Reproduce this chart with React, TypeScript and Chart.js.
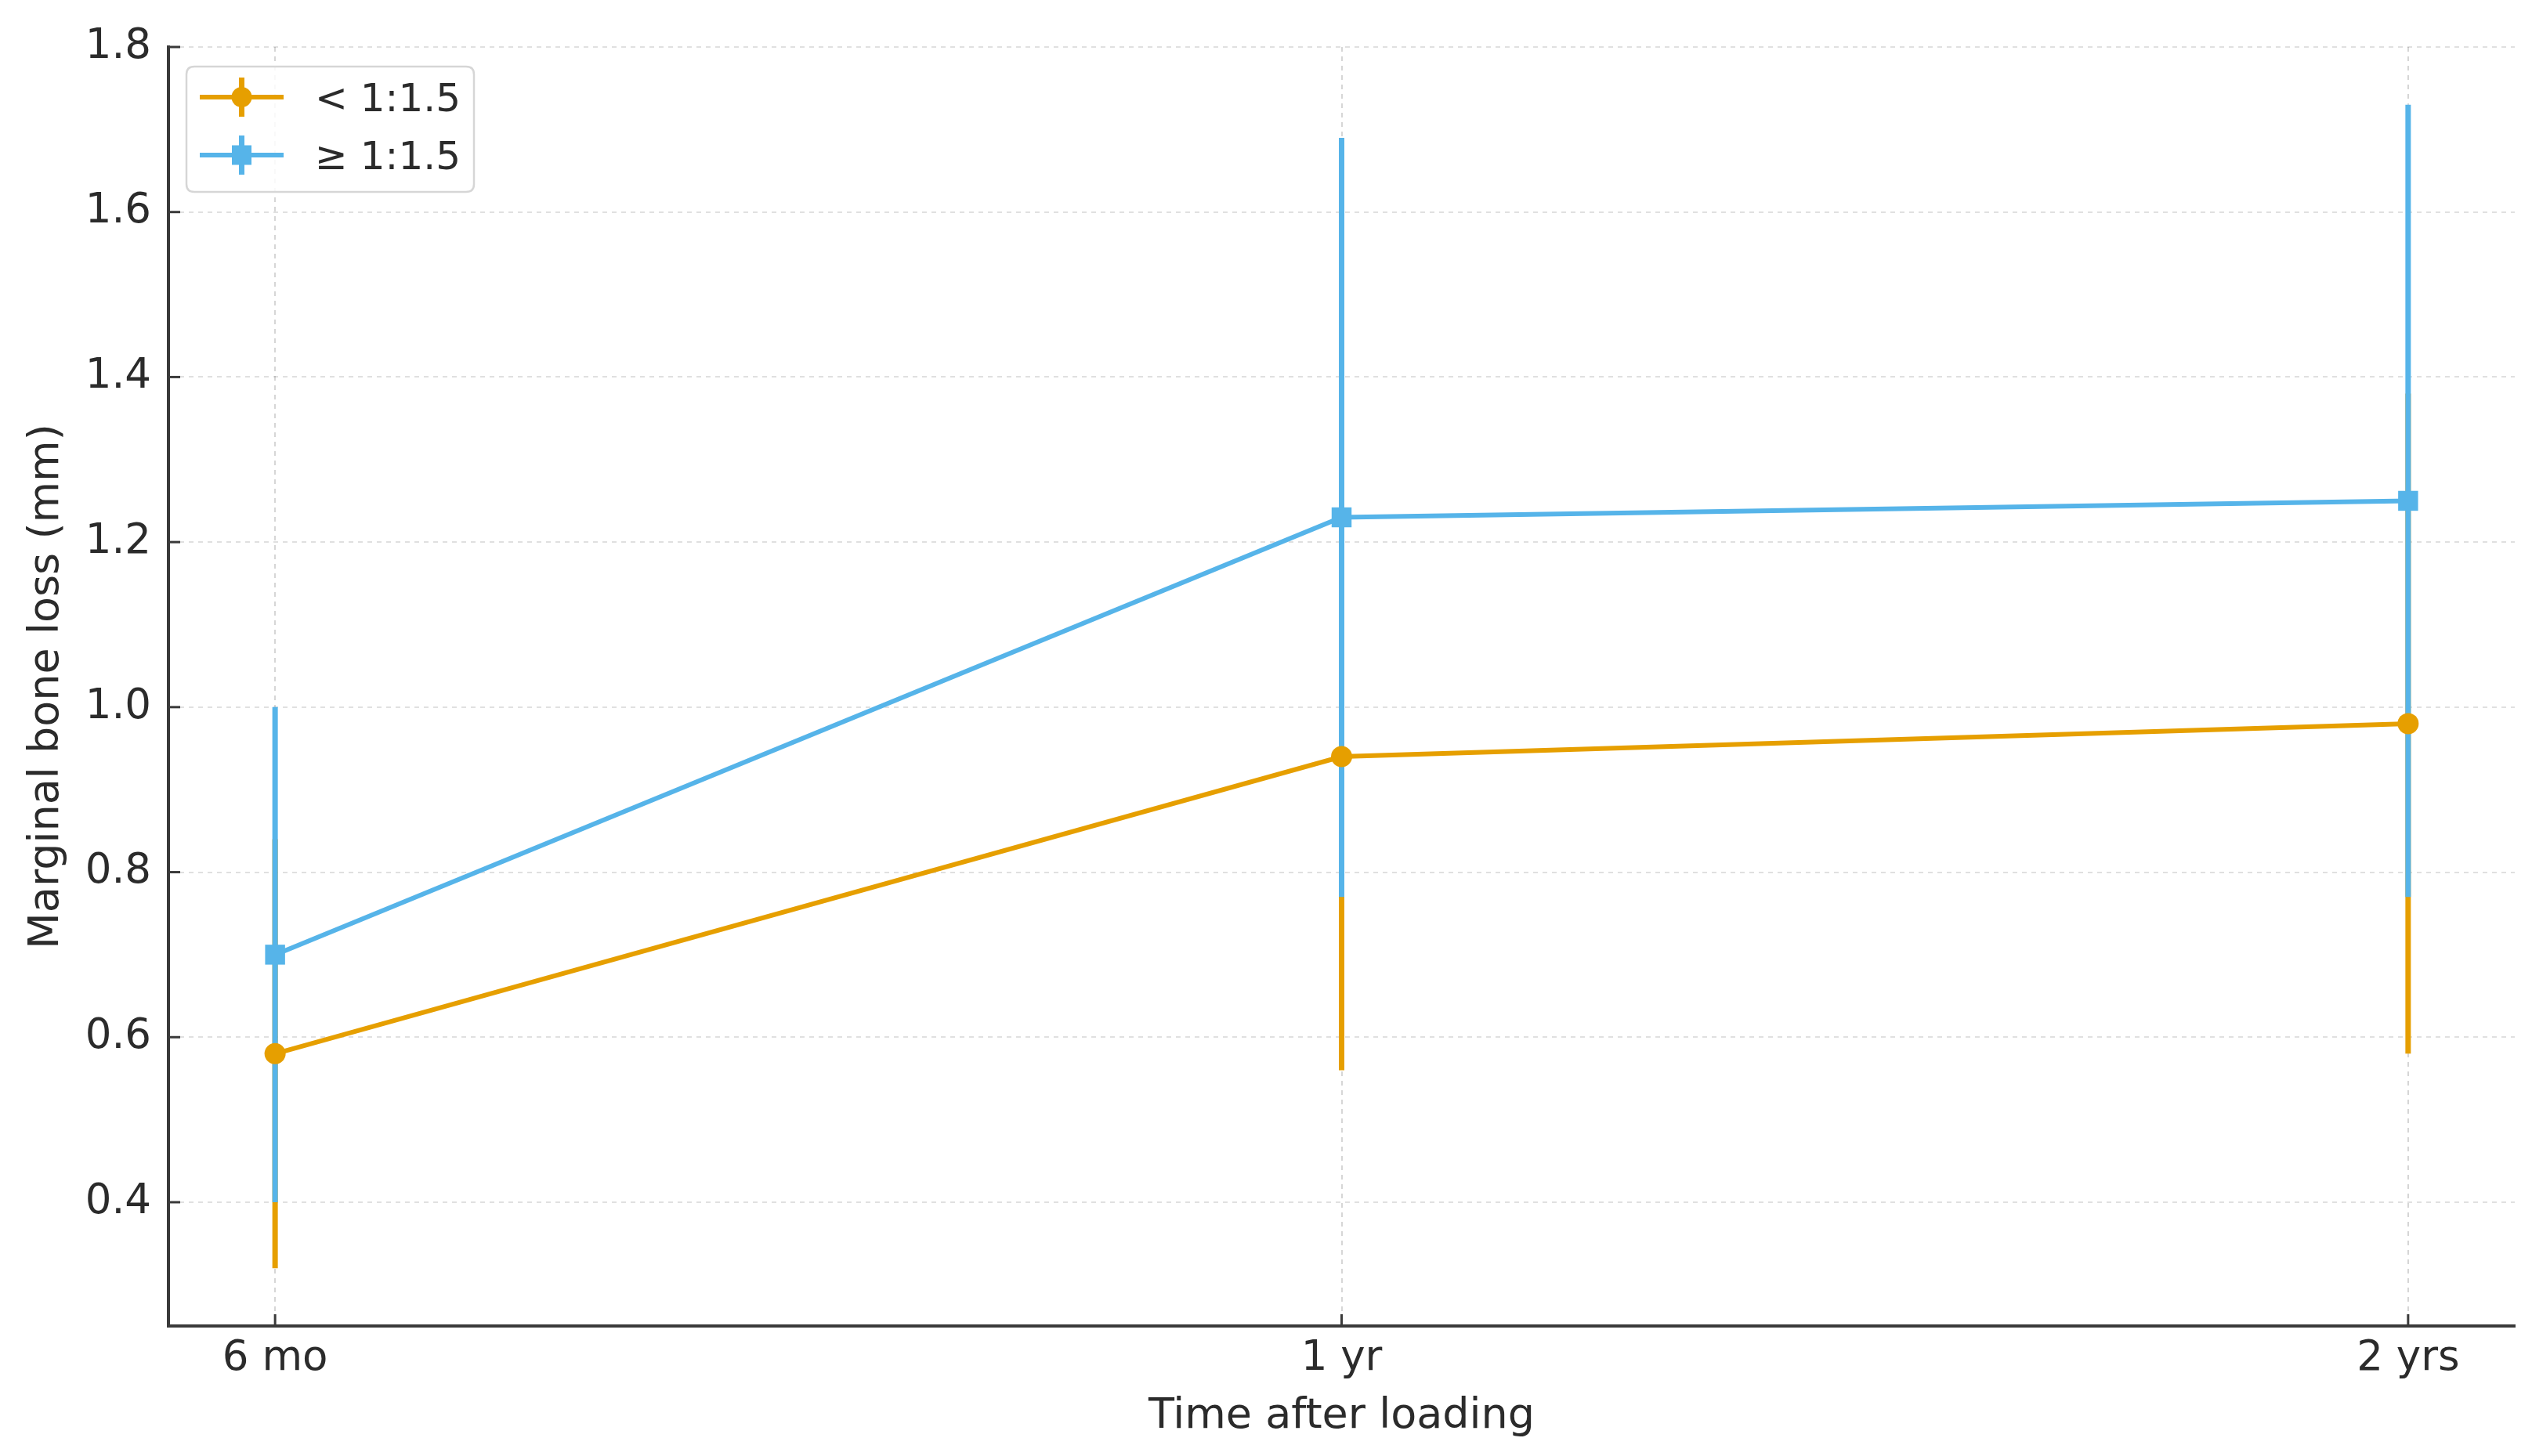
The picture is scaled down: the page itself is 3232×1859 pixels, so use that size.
import React, { useEffect, useRef } from "react";
import { Chart, registerables } from "chart.js";

Chart.register(...registerables);

// ---- data ----
const CATEGORIES = ["6 mo", "1 yr", "2 yrs"];
const SERIES_LABELS = ["< 1:1.5", "≥ 1:1.5"];
const LOW_RATIO_MEANS = [0.58, 0.94, 0.98];
const LOW_RATIO_ERRORS = [0.26, 0.38, 0.4];
const HIGH_RATIO_MEANS = [0.7, 1.23, 1.25];
const HIGH_RATIO_ERRORS = [0.3, 0.46, 0.48];
const Y_TICKS = [0.4, 0.6, 0.8, 1.0, 1.2, 1.4, 1.6, 1.8];
const X_TITLE = "Time after loading";
const Y_TITLE = "Marginal bone loss (mm)";

// ---- styles ----
const ORANGE = "#E69F00";
const BLUE = "#56B4E9";
const TEXT = "#2b2b2b";
const SPINE = "#3a3a3a";
const FONT = "'DejaVu Sans', sans-serif";
const W = 3232;
const H = 1859;
const LINE_W = 6;
const ERR_W = 7;

const errorBarPlugin = {
  id: "errorBars",
  beforeDatasetsDraw(chart: any) {
    const { ctx, scales } = chart;
    const xs = scales.x;
    const ys = scales.y;
    chart.data.datasets.forEach((ds: any) => {
      ctx.save();
      ctx.strokeStyle = ds.borderColor;
      ctx.lineWidth = ERR_W;
      ctx.lineCap = "butt";
      ds.data.forEach((pt: any, j: number) => {
        const e = ds.errors[j];
        const px = xs.getPixelForValue(pt.x);
        ctx.beginPath();
        ctx.moveTo(px, ys.getPixelForValue(pt.y - e));
        ctx.lineTo(px, ys.getPixelForValue(pt.y + e));
        ctx.stroke();
      });
      ctx.restore();
    });
  },
};

const innerTicksPlugin = {
  id: "innerTicks",
  afterDraw(chart: any) {
    const { ctx, chartArea, scales } = chart;
    ctx.save();
    ctx.strokeStyle = SPINE;
    ctx.lineWidth = 3;
    scales.y.ticks.forEach((t: any) => {
      const py = scales.y.getPixelForValue(t.value);
      ctx.beginPath();
      ctx.moveTo(chartArea.left, py);
      ctx.lineTo(chartArea.left + 15, py);
      ctx.stroke();
    });
    scales.x.ticks.forEach((t: any) => {
      const px = scales.x.getPixelForValue(t.value);
      ctx.beginPath();
      ctx.moveTo(px, chartArea.bottom);
      ctx.lineTo(px, chartArea.bottom - 15);
      ctx.stroke();
    });
    ctx.restore();
  },
};

function roundRect(ctx: CanvasRenderingContext2D, x: number, y: number, w: number, h: number, r: number) {
  ctx.beginPath();
  ctx.moveTo(x + r, y);
  ctx.lineTo(x + w - r, y);
  ctx.quadraticCurveTo(x + w, y, x + w, y + r);
  ctx.lineTo(x + w, y + h - r);
  ctx.quadraticCurveTo(x + w, y + h, x + w - r, y + h);
  ctx.lineTo(x + r, y + h);
  ctx.quadraticCurveTo(x, y + h, x, y + h - r);
  ctx.lineTo(x, y + r);
  ctx.quadraticCurveTo(x, y, x + r, y);
  ctx.closePath();
}

const boxLegendPlugin = {
  id: "boxLegend",
  afterDraw(chart: any) {
    const { ctx, chartArea } = chart;
    const bx = chartArea.left + 23;
    const by = chartArea.top + 25;
    const bw = 367;
    const bh = 160;
    ctx.save();
    roundRect(ctx, bx, by, bw, bh, 10);
    ctx.fillStyle = "rgba(255,255,255,0.85)";
    ctx.fill();
    ctx.strokeStyle = "#d6d6d6";
    ctx.lineWidth = 2.5;
    ctx.stroke();
    chart.data.datasets.forEach((ds: any, i: number) => {
      const cy = by + 39 + i * 74;
      const x0 = bx + 17;
      const x1 = bx + 124;
      const mx = (x0 + x1) / 2;
      ctx.strokeStyle = ds.borderColor;
      ctx.lineWidth = LINE_W;
      ctx.beginPath();
      ctx.moveTo(x0, cy);
      ctx.lineTo(x1, cy);
      ctx.stroke();
      ctx.lineWidth = ERR_W;
      ctx.beginPath();
      ctx.moveTo(mx, cy - 25);
      ctx.lineTo(mx, cy + 25);
      ctx.stroke();
      ctx.fillStyle = ds.borderColor;
      ctx.beginPath();
      if (ds.pointStyle === "rect") {
        ctx.rect(mx - 12.5, cy - 12.5, 25, 25);
      } else {
        ctx.arc(mx, cy, 13, 0, Math.PI * 2);
      }
      ctx.fill();
      ctx.fillStyle = TEXT;
      ctx.font = `50px ${FONT}`;
      ctx.textAlign = "left";
      ctx.textBaseline = "alphabetic";
      ctx.fillText(ds.label, bx + 164, cy + 18);
    });
    ctx.restore();
  },
};

export default function App() {
  const ref = useRef<HTMLCanvasElement | null>(null);

  useEffect(() => {
    document.body.style.margin = "0";
    document.body.style.overflow = "hidden";
    const canvas = ref.current;
    if (!canvas) return;
    const toPoints = (vals: number[]) => vals.map((v, i) => ({ x: i, y: v }));
    const chart = new Chart(canvas, {
      type: "line",
      data: {
        datasets: [
          {
            label: SERIES_LABELS[0],
            data: toPoints(LOW_RATIO_MEANS),
            errors: LOW_RATIO_ERRORS,
            borderColor: ORANGE,
            backgroundColor: ORANGE,
            pointBackgroundColor: ORANGE,
            pointBorderWidth: 0,
            pointRadius: 13.5,
            pointStyle: "circle",
            borderWidth: LINE_W,
            tension: 0,
            fill: false,
          } as any,
          {
            label: SERIES_LABELS[1],
            data: toPoints(HIGH_RATIO_MEANS),
            errors: HIGH_RATIO_ERRORS,
            borderColor: BLUE,
            backgroundColor: BLUE,
            pointBackgroundColor: BLUE,
            pointBorderWidth: 0,
            pointRadius: 18,
            pointStyle: "rect",
            borderWidth: LINE_W,
            tension: 0,
            fill: false,
          } as any,
        ],
      },
      options: {
        responsive: false,
        animation: false,
        devicePixelRatio: 1,
        layout: { padding: { top: 60, right: 22, left: 0, bottom: 0 } },
        plugins: {
          legend: { display: false },
          tooltip: { enabled: false },
        },
        scales: {
          x: {
            type: "linear",
            min: -0.1,
            max: 2.1,
            afterBuildTicks: (scale: any) => {
              scale.ticks = CATEGORIES.map((_, i) => ({ value: i }));
            },
            afterFit: (scale: any) => {
              scale.height = 166;
            },
            ticks: {
              color: TEXT,
              font: { family: FONT, size: 53 },
              padding: 10,
              maxRotation: 0,
              autoSkip: false,
              callback: (v: any) => CATEGORIES[Math.round(Number(v))] ?? "",
            },
            grid: {
              drawTicks: false,
              color: "rgba(0,0,0,0.16)",
              lineWidth: 2,
            },
            border: { display: true, color: SPINE, width: 4, dash: [6, 6] },
            title: {
              display: true,
              text: X_TITLE,
              color: TEXT,
              font: { family: FONT, size: 54, lineHeight: 1.2 },
              padding: { top: 0, bottom: 18 },
            },
          },
          y: {
            type: "linear",
            min: 0.25,
            max: 1.8,
            afterBuildTicks: (scale: any) => {
              scale.ticks = Y_TICKS.map((v) => ({ value: v }));
            },
            afterFit: (scale: any) => {
              scale.width = 215;
            },
            ticks: {
              color: TEXT,
              font: { family: FONT, size: 53 },
              padding: 22,
              callback: (v: any) => Number(v).toFixed(1),
            },
            grid: {
              drawTicks: false,
              color: "rgba(0,0,0,0.12)",
              lineWidth: 2,
            },
            border: { display: true, color: SPINE, width: 4, dash: [6, 6] },
            title: {
              display: true,
              text: Y_TITLE,
              color: TEXT,
              font: { family: FONT, size: 54, lineHeight: 1.2 },
              padding: { top: 28, bottom: 0 },
            },
          },
        },
      } as any,
      plugins: [errorBarPlugin, innerTicksPlugin, boxLegendPlugin],
    });
    return () => chart.destroy();
  }, []);

  return (
    <div style={{ width: W, height: H, background: "#fff" }}>
      <canvas ref={ref} width={W} height={H} style={{ width: W, height: H, display: "block" }} />
    </div>
  );
}
